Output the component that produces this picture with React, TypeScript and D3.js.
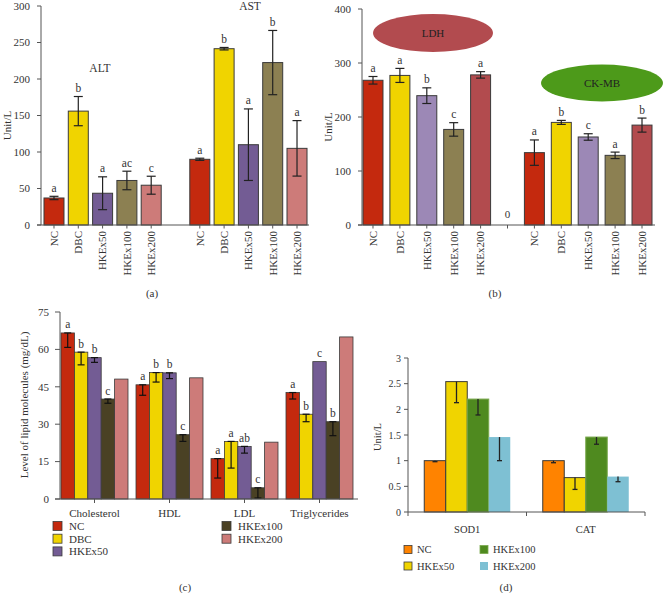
import React from "react";
import * as d3 from "d3";

// ---------- Data ----------
const groupNames = ["NC", "DBC", "HKEx50", "HKEx100", "HKEx200"];

// Panel (a)
const altValues = [37, 156, 43.5, 61, 54.5];
const altErrors = [2.3, 20, 22.5, 12.7, 12.3];
const altLetters = ["a", "b", "a", "ac", "c"];
const astValues = [90, 241.5, 110, 222.5, 105];
const astErrors = [1.5, 1.7, 49, 44, 38];
const astLetters = ["a", "b", "a", "b", "a"];
const aTicks = [0, 50, 100, 150, 200, 250, 300];

// Panel (b)
const ldhValues = [268, 277, 239.5, 177, 278];
const ldhErrors = [7, 13, 14.5, 12.5, 6];
const ldhLetters = ["a", "a", "b", "c", "a"];
const ckmbValues = [134, 190, 163, 129, 185];
const ckmbErrors = [23.5, 3.7, 6, 6, 13];
const ckmbLetters = ["a", "b", "c", "a", "b"];
const bTicks = [0, 100, 200, 300, 400];

// Panel (c)
const lipidCategories = ["Cholesterol", "HDL", "LDL", "Triglycerides"];
const lipidNC = [66.6, 45.8, 16.2, 42.7];
const lipidNCLow = [60.8, 41.6, 8.4, 40.1];
const lipidDBC = [58.9, 50.7, 23.1, 34];
const lipidDBCLow = [53.8, 46.9, 12.4, 31];
const lipidHKEx50 = [56.7, 50.6, 21.1, 55.1];
const lipidHKEx50Low = [54.8, 48.3, 18.4, null];
const lipidHKEx100 = [40.1, 25.8, 4.5, 31];
const lipidHKEx100Low = [38.4, 23.1, 0.4, 25.4];
const lipidHKEx200 = [48.1, 48.6, 22.8, 65];
const lipidLetters = [
  ["a", "a", "a", "a"],
  ["b", "b", "a", "b"],
  ["b", "b", "ab", "c"],
  ["c", "c", "c", "b"],
  ["", "", "", ""],
];
const cTicks = [0, 15, 30, 45, 60, 75];

// Panel (d)
const enzymeCategories = ["SOD1", "CAT"];
const enzymeSeries = ["NC", "HKEx50", "HKEx100", "HKEx200"];
const enzNC = [1.0, 1.0];
const enzNCLow = [0.98, 0.96];
const enzHKEx50 = [2.54, 0.67];
const enzHKEx50Low = [2.13, 0.44];
const enzHKEx100 = [2.2, 1.46];
const enzHKEx100Low = [1.89, 1.32];
const enzHKEx200 = [1.46, 0.69];
const enzHKEx200Low = [1.0, 0.59];
const dTicks = [0, 0.5, 1, 1.5, 2, 2.5, 3];

// ---------- Styles ----------
const FONT = "'Liberation Serif', 'DejaVu Serif', serif";
const TXT = "#333";
const AX = "#555";
const OUT = "#3a3a3a";

const colorsA = ["#C4290E", "#F0D400", "#735C94", "#8C8052", "#CD7B79"];
const colorsB = ["#C4290E", "#F0D400", "#9C88B6", "#8C8052", "#B24B4E"];
const colorsC = ["#C4290E", "#F0D400", "#735C94", "#4A4124", "#CD7B79"];
const colorsD = ["#FF8300", "#F0D400", "#4F8A1F", "#7EC0D3"];
const strokesD = [OUT, OUT, "#7aa84e", "none"];

type PairPanelProps = {
  left: number[]; leftErr: number[]; leftLet: string[];
  right: number[]; rightErr: number[]; rightLet: string[];
  colors: string[]; yMax: number; ticks: number[];
  yTop: number; yBottom: number; xStart: number; xEnd: number;
  pi: number; po: number; axisX: number; axisLineStart: number; axisLineEnd: number;
  midLabel: string; caption: string; captionX: number; yLabelX: number;
};

function PairPanel(p: PairPanelProps) {
  const y = d3.scaleLinear().domain([0, p.yMax]).range([p.yBottom, p.yTop]);
  const slots = d3.range(11);
  const x = d3.scaleBand<number>().domain(slots).range([p.xStart, p.xEnd]).paddingInner(p.pi).paddingOuter(p.po);
  const items: { slot: number; v: number; e: number; l: string; c: string; name: string }[] = [];
  groupNames.forEach((g, i) => items.push({ slot: i, v: p.left[i], e: p.leftErr[i], l: p.leftLet[i], c: p.colors[i], name: g }));
  groupNames.forEach((g, i) => items.push({ slot: i + 6, v: p.right[i], e: p.rightErr[i], l: p.rightLet[i], c: p.colors[i], name: g }));
  const bw = x.bandwidth();
  const cap = 4.5;
  return (
    <g fontFamily={FONT}>
      {items.map((d) => {
        const x0 = x(d.slot)!;
        const cx = x0 + bw / 2;
        const top = y(d.v + d.e);
        const bot = y(d.v - d.e);
        return (
          <g key={d.slot}>
            <rect x={x0} y={y(d.v)} width={bw} height={y(0) - y(d.v)} fill={d.c} stroke={OUT} strokeWidth={1} />
            <line x1={cx} x2={cx} y1={top} y2={bot} stroke="#222" strokeWidth={1.2} />
            <line x1={cx - cap} x2={cx + cap} y1={top} y2={top} stroke="#222" strokeWidth={1.2} />
            <line x1={cx - cap} x2={cx + cap} y1={bot} y2={bot} stroke="#222" strokeWidth={1.2} />
            <text x={cx} y={top - 4.5} textAnchor="middle" fontSize={11.5} fill={TXT}>{d.l}</text>
            <line x1={cx} x2={cx} y1={p.yBottom} y2={p.yBottom + 3.5} stroke={AX} />
            <text transform={`translate(${cx},${p.yBottom + 6}) rotate(-90)`} textAnchor="end" dy="0.35em" fontSize={11} fill={TXT}>{d.name}</text>
          </g>
        );
      })}
      {p.midLabel && (
        <g>
          <line x1={x(5)! + bw / 2} x2={x(5)! + bw / 2} y1={p.yBottom} y2={p.yBottom + 3.5} stroke={AX} />
          <text x={x(5)! + bw / 2} y={p.yBottom - 7} textAnchor="middle" fontSize={11} fill={TXT}>{p.midLabel}</text>
        </g>
      )}
      <line x1={p.axisX} x2={p.axisX} y1={p.yTop} y2={p.yBottom} stroke={AX} />
      <line x1={p.axisLineStart} x2={p.axisLineEnd} y1={p.yBottom} y2={p.yBottom} stroke={AX} />
      {p.ticks.map((t) => (
        <g key={t}>
          <line x1={p.axisX - 4} x2={p.axisX} y1={y(t)} y2={y(t)} stroke={AX} />
          <text x={p.axisX - 11} y={y(t)} dy="0.35em" textAnchor="end" fontSize={11} fill={TXT}>{t}</text>
        </g>
      ))}
      <text transform={`translate(${p.yLabelX},${(p.yTop + p.yBottom) / 2 + 10}) rotate(-90)`} textAnchor="middle" dy="0.35em" fontSize={11} fill={TXT}>Unit/L</text>
      <text x={p.captionX} y={297} textAnchor="middle" fontSize={11} fill={TXT}>{p.caption}</text>
    </g>
  );
}

function LipidPanel() {
  const y = d3.scaleLinear().domain([0, 75]).range([499, 312]);
  const x0 = d3.scaleBand<string>().domain(lipidCategories).range([61, 353]).paddingInner(8 / 75).paddingOuter(0);
  const x1 = d3.scaleBand<string>().domain(groupNames).range([0, x0.bandwidth()]);
  const series = [lipidNC, lipidDBC, lipidHKEx50, lipidHKEx100, lipidHKEx200];
  const lows: (number | null)[][] = [lipidNCLow, lipidDBCLow, lipidHKEx50Low, lipidHKEx100Low, [null, null, null, null]];
  const bw = x1.bandwidth();
  const cap = 3.5;
  return (
    <g fontFamily={FONT}>
      {lipidCategories.map((cat, ci) => (
        <g key={cat}>
          {groupNames.map((g, si) => {
            const v = series[si][ci];
            const lo = lows[si][ci];
            const bx = x0(cat)! + x1(g)!;
            const cx = bx + bw / 2;
            return (
              <g key={g}>
                <rect x={bx} y={y(v)} width={bw} height={y(0) - y(v)} fill={colorsC[si]} stroke={OUT} strokeWidth={0.8} />
                {lo !== null && (
                  <g stroke="#111" strokeWidth={1.2}>
                    <line x1={cx} x2={cx} y1={y(v)} y2={y(lo)} />
                    <line x1={cx - cap} x2={cx + cap} y1={y(v)} y2={y(v)} />
                    <line x1={cx - cap} x2={cx + cap} y1={y(lo)} y2={y(lo)} />
                  </g>
                )}
                <text x={cx} y={y(v) - 4.5} textAnchor="middle" fontSize={11.5} fill={TXT}>{lipidLetters[si][ci]}</text>
              </g>
            );
          })}
          <line x1={x0(cat)! + x0.bandwidth() / 2} x2={x0(cat)! + x0.bandwidth() / 2} y1={499} y2={503} stroke={AX} />
          <text x={x0(cat)! + x0.bandwidth() / 2} y={517} textAnchor="middle" fontSize={11} fill={TXT}>{cat}</text>
        </g>
      ))}
      <line x1={60} x2={60} y1={312} y2={499} stroke={AX} />
      <line x1={55} x2={358} y1={499} y2={499} stroke={AX} />
      {cTicks.map((t) => (
        <g key={t}>
          <line x1={55} x2={60} y1={y(t)} y2={y(t)} stroke={AX} />
          <text x={49} y={y(t)} dy="0.35em" textAnchor="end" fontSize={11} fill={TXT}>{t}</text>
        </g>
      ))}
      <text transform="translate(24,405) rotate(-90)" textAnchor="middle" dy="0.35em" fontSize={11} fill={TXT}>Level of lipid molecules (mg/dL)</text>
      {groupNames.map((g, i) => {
        const col = i < 3 ? 0 : 1;
        const row = i < 3 ? i : i - 3;
        const sx = col === 0 ? 53 : 222;
        const cy = 526 + row * 12.7;
        return (
          <g key={g}>
            <rect x={sx} y={cy - 4.5} width={9} height={9} fill={colorsC[i]} stroke={OUT} strokeWidth={0.8} />
            <text x={sx + 16} y={cy} dy="0.35em" fontSize={11} fill={TXT}>{g}</text>
          </g>
        );
      })}
      <text x={185} y={591} textAnchor="middle" fontSize={11} fill={TXT}>(c)</text>
    </g>
  );
}

function EnzymePanel() {
  const y = d3.scaleLinear().domain([0, 3]).range([512, 358]);
  const x0 = d3.scaleBand<string>().domain(enzymeCategories).range([408, 645]);
  const groupW = 86;
  const x1 = d3.scaleBand<string>().domain(enzymeSeries).range([0, groupW]);
  const series = [enzNC, enzHKEx50, enzHKEx100, enzHKEx200];
  const lows = [enzNCLow, enzHKEx50Low, enzHKEx100Low, enzHKEx200Low];
  const bw = x1.bandwidth();
  return (
    <g fontFamily={FONT}>
      {enzymeCategories.map((cat, ci) => {
        const gx = x0(cat)! + (x0.bandwidth() - groupW) / 2;
        return (
          <g key={cat}>
            {enzymeSeries.map((s, si) => {
              const v = series[si][ci];
              const lo = lows[si][ci];
              const bx = gx + x1(s)!;
              const cx = bx + bw / 2;
              return (
                <g key={s}>
                  <rect x={bx} y={y(v)} width={bw} height={y(0) - y(v)} fill={colorsD[si]} stroke={strokesD[si]} strokeWidth={1} />
                  <line x1={cx} x2={cx} y1={y(v)} y2={y(lo)} stroke="#222" strokeWidth={1.3} />
                  <line x1={cx - 2.5} x2={cx + 2.5} y1={y(lo)} y2={y(lo)} stroke="#222" strokeWidth={1.3} />
                </g>
              );
            })}
            <text x={x0(cat)! + x0.bandwidth() / 2} y={533} textAnchor="middle" fontSize={10.5} fill={TXT}>{cat}</text>
          </g>
        );
      })}
      <line x1={408} x2={408} y1={358} y2={512} stroke={AX} />
      <line x1={408} x2={645} y1={512} y2={512} stroke={AX} />
      {[408, 408 + x0.step(), 645].map((t) => (
        <line key={t} x1={t} x2={t} y1={512} y2={516} stroke={AX} />
      ))}
      {dTicks.map((t) => (
        <g key={t}>
          <line x1={404} x2={408} y1={y(t)} y2={y(t)} stroke={AX} />
          <text x={401} y={y(t)} dy="0.35em" textAnchor="end" fontSize={10} fill={TXT}>{t}</text>
        </g>
      ))}
      <text transform="translate(377,437) rotate(-90)" textAnchor="middle" dy="0.35em" fontSize={10.5} fill={TXT}>Unit/L</text>
      {enzymeSeries.map((s, i) => {
        const col = i < 2 ? 0 : 1;
        const row = i % 2;
        const sx = col === 0 ? 404 : 480;
        const cy = 549.5 + row * 16.5;
        return (
          <g key={s}>
            <rect x={sx} y={cy - 4} width={8} height={8} fill={colorsD[i]} stroke={strokesD[i]} strokeWidth={0.8} />
            <text x={sx + 13} y={cy} dy="0.35em" fontSize={10.5} fill={TXT}>{s}</text>
          </g>
        );
      })}
      <text x={506} y={591} textAnchor="middle" fontSize={11} fill={TXT}>(d)</text>
    </g>
  );
}

export default function App() {
  return (
    <svg width={664} height={593} viewBox="0 0 664 593" style={{ position: "absolute", left: 0, top: 0, background: "#fff" }}>
      <rect x={0} y={0} width={664} height={593} fill="#fff" />
      <PairPanel
        left={altValues} leftErr={altErrors} leftLet={altLetters}
        right={astValues} rightErr={astErrors} rightLet={astLetters}
        colors={colorsA} yMax={300} ticks={aTicks}
        yTop={6} yBottom={225} xStart={41} xEnd={310} pi={0.177} po={0.123}
        axisX={41} axisLineStart={37} axisLineEnd={309}
        midLabel="" caption="(a)" captionX={152} yLabelX={7}
      />
      <text x={100} y={72} textAnchor="middle" fontFamily={FONT} fontSize={11.5} fill={TXT}>ALT</text>
      <text x={250} y={10} textAnchor="middle" fontFamily={FONT} fontSize={11.5} fill={TXT}>AST</text>
      <PairPanel
        left={ldhValues} leftErr={ldhErrors} leftLet={ldhLetters}
        right={ckmbValues} rightErr={ckmbErrors} rightLet={ckmbLetters}
        colors={colorsB} yMax={400} ticks={bTicks}
        yTop={9} yBottom={225} xStart={363} xEnd={652} pi={0.257} po={0}
        axisX={362} axisLineStart={358} axisLineEnd={655}
        midLabel="0" caption="(b)" captionX={495} yLabelX={328}
      />
      <ellipse cx={433} cy={33} rx={60} ry={19} fill="#B24B4F" />
      <text x={433} y={33} dy="0.35em" textAnchor="middle" fontFamily={FONT} fontSize={11} fill="#222">LDH</text>
      <ellipse cx={602} cy={83} rx={61} ry={18.5} fill="#4D9A1A" />
      <text x={602} y={83} dy="0.35em" textAnchor="middle" fontFamily={FONT} fontSize={11} fill="#222">CK-MB</text>
      <LipidPanel />
      <EnzymePanel />
    </svg>
  );
}
